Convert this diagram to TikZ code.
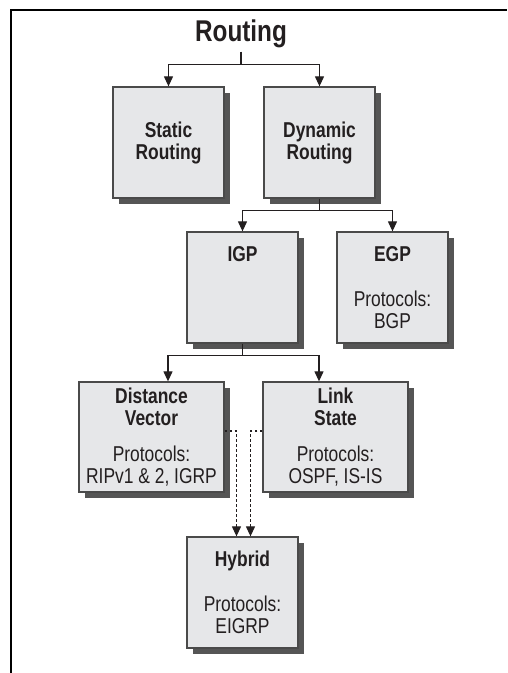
\documentclass[tikz,border=0pt]{standalone}
\usepackage{fontspec}
\setmainfont{Liberation Sans}[FakeStretch=0.81]
\usetikzlibrary{positioning,arrows.meta,shadows}
\definecolor{boxfill}{HTML}{E6E7E9}
\definecolor{boxline}{HTML}{4A4A4A}
\definecolor{shade}{HTML}{555555}
\definecolor{ink}{HTML}{231F20}
\tikzset{
	routebox/.style={draw=boxline, line width=1.3pt, fill=boxfill,
		minimum width=111pt, minimum height=111pt, inner sep=0pt,
		align=center, text=ink, font=\fontsize{21.5}{22}\selectfont,
		drop shadow={shadow xshift=6pt, shadow yshift=-6pt, fill=shade, opacity=1}},
	widebox/.style={minimum width=145pt, minimum height=110pt},
	trunk/.style={draw=ink, line width=1.2pt},
	link/.style={trunk, -{Triangle[length=10pt,width=9pt]}},
	hint/.style={link, dash pattern=on 2.5pt off 2.5pt},
}
\begin{document}
\begin{tikzpicture}[x=1pt,y=1pt]
			\useasboundingbox (0,0) rectangle (507,-673);
			%%draw the frame
			\draw[line width=1.5pt] (11,-673) -- (11,-10) -- (507,-10);

			%%title
			\node[text=ink, font=\fontsize{30}{32}\selectfont\bfseries] (title) at (241,-34){Routing};

			%%draw the boxes
			\node[routebox] (static) at (168.5,-142.5){\textbf{Static}\\\textbf{Routing}};
			\node[routebox] (dynamic) at (319.5,-142.5){\textbf{Dynamic}\\\textbf{Routing}};

			\node[routebox] (igp) at (242.5,-287.5){\textbf{IGP}\\[23pt]\phantom{Protocols:}\\\phantom{BGP}};
			\node[routebox] (egp) at (392.5,-287.5){\textbf{EGP}\\[23pt]Protocols:\\BGP};

			\node[routebox, widebox] (dv) at (151.5,-437){\textbf{Distance}\\\textbf{Vector}\\[14pt]Protocols:\\RIPv1 \& 2, IGRP};
			\node[routebox, widebox] (ls) at (335.5,-437){\textbf{Link}\\\textbf{State}\\[14pt]Protocols:\\OSPF, IS-IS};

			\node[routebox] (hybrid) at (242.5,-592.5){\textbf{Hybrid}\\[23pt]Protocols:\\EIGRP};

			%%draw the connectors
			%%routing splits
			\coordinate[below=13pt of title] (fork1);
			\draw[trunk] (title.south) -- (fork1);
				\draw[link] (fork1) -| (static.north);
				\draw[link] (fork1) -| (dynamic.north);
			%%dynamic splits
			\coordinate[below=12pt of dynamic] (fork2);
			\draw[trunk] (dynamic.south) -- (fork2);
				\draw[link] (fork2) -| (igp.north);
				\draw[link] (fork2) -| (egp.north);
			%%igp splits
			\coordinate[below=12pt of igp] (fork3);
			\draw[trunk] (igp.south) -- (fork3);
				\draw[link] (fork3) -| ([xshift=16.5pt]dv.north);
				\draw[link] (fork3) -| ([xshift=-16.5pt]ls.north);
			%%both feed hybrid
			\draw[hint] ([yshift=6pt]dv.east) -| ([xshift=-6pt]hybrid.north);
			\draw[hint] ([yshift=6pt]ls.west) -| ([xshift=8pt]hybrid.north);
\end{tikzpicture}
\end{document}
